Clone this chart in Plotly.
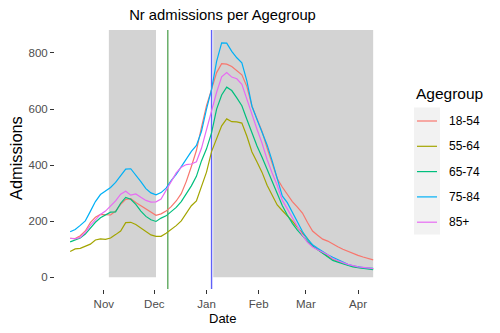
import pandas as pd
import plotly.graph_objects as go

# ---------------- data ----------------
start_date = "2020-10-12"
step_days = 3
dates = pd.date_range(start_date, periods=61, freq=f"{step_days}D")

agegroups = ["18-54", "55-64", "65-74", "75-84", "85+"]
colors = ["#F8766D", "#A3A500", "#00BF7D", "#00B0F6", "#E76BF3"]

adm_18_54 = [139, 138, 148, 165, 195, 214, 224, 224, 222, 236,
             260, 278, 280, 267, 255, 243, 231, 221, 226, 236,
             252, 272, 298, 342, 395, 452, 535, 612, 670, 730,
             762, 760, 752, 737, 722, 680, 610, 565, 520, 461,
             410, 352, 322, 297, 270, 250, 229, 195, 165, 150,
             136, 129, 118, 109, 100, 92, 84, 78, 72, 67, 62]
adm_55_64 = [92, 101, 103, 110, 118, 133, 137, 135, 140, 152,
             165, 195, 196, 188, 176, 163, 151, 146, 146, 157,
             169, 184, 201, 226, 255, 272, 322, 375, 448, 495,
             540, 565, 555, 554, 550, 503, 447, 411, 374, 328,
             294, 258, 238, 220, 200, 178, 158, 138, 111, 98,
             85, 75, 64, 56, 50, 44, 39, 35, 33, 32, 31]
adm_65_74 = [126, 133, 140, 154, 177, 196, 212, 223, 232, 233,
             264, 285, 278, 260, 236, 217, 205, 199, 211, 219,
             233, 249, 270, 297, 326, 360, 415, 458, 515, 600,
             650, 678, 666, 640, 612, 563, 515, 468, 428, 385,
             338, 298, 256, 222, 192, 168, 146, 128, 111, 99,
             87, 72, 60, 54, 48, 43, 37, 34, 31, 29, 27]
adm_75_84 = [162, 170, 185, 201, 235, 270, 295, 307, 320, 338,
             363, 386, 387, 366, 341, 316, 301, 294, 302, 318,
             345, 367, 393, 423, 449, 470, 520, 600, 670, 770,
             836, 835, 806, 783, 765, 700, 610, 563, 517, 472,
             415, 350, 290, 266, 232, 198, 163, 136, 116, 103,
             90, 80, 71, 62, 53, 46, 41, 37, 34, 33, 32]
adm_85_plus = [139, 137, 142, 160, 185, 205, 224, 236, 254, 272,
               296, 307, 293, 297, 285, 274, 268, 269, 279, 310,
               345, 372, 392, 402, 404, 412, 460, 530, 595, 660,
               715, 730, 714, 708, 688, 632, 576, 528, 478, 420,
               372, 328, 275, 244, 210, 180, 150, 124, 108, 98,
               88, 80, 66, 58, 52, 46, 41, 37, 35, 33, 31]
series = [adm_18_54, adm_55_64, adm_65_74, adm_75_84, adm_85_plus]

shaded_periods = [("2020-11-04", "2020-12-02"), ("2021-01-05", None)]
vlines = [("2020-12-09", "#5FA95F"), ("2021-01-04", "#6060F8")]

x_tick_vals = ["2020-11-01", "2020-12-01", "2021-01-01", "2021-02-01", "2021-03-01", "2021-04-01"]
x_tick_text = ["Nov", "Dec", "Jan", "Feb", "Mar", "Apr"]
y_tick_vals = [0, 200, 400, 600, 800]

# ---------------- layout helpers ----------------
W, H = 500, 333
PL, PR, PT, PB = 55, 390, 30, 289
Y_RANGE = [-42, 882]
FONT = "Liberation Sans, Arial, sans-serif"


def pxx(x):
    return (x - PL) / (PR - PL)


def pxy(y):
    return (PB - y) / (PB - PT)


fig = go.Figure()

for name, vals, col in zip(agegroups, series, colors):
    fig.add_trace(go.Scatter(x=dates, y=vals, mode="lines", name=name,
                             line=dict(color=col, width=1.2), showlegend=False))

shapes = []
for s, e in shaded_periods:
    shapes.append(dict(type="rect", xref="x", yref="y", x0=s,
                       x1=e if e is not None else dates[-1], y0=0, y1=Y_RANGE[1],
                       fillcolor="#D3D3D3", line=dict(width=0), layer="below"))
for d, c in vlines:
    shapes.append(dict(type="line", xref="x", yref="paper", x0=d, x1=d, y0=0, y1=1,
                       line=dict(color=c, width=1.4), layer="below"))

# manual legend (ggplot style)
annotations = []
leg_top, step = 121, 25.3
shapes.append(dict(type="rect", xref="paper", yref="paper", x0=pxx(414), x1=pxx(440),
                   y0=pxy(234.5), y1=pxy(107.5), fillcolor="#F2F2F2",
                   line=dict(width=0), layer="above"))
annotations.append(dict(text="Agegroup", xref="paper", yref="paper", x=pxx(413.5), y=pxy(94),
                        xanchor="left", yanchor="middle", showarrow=False,
                        font=dict(size=15.5, color="#000000", family=FONT)))
for i, (name, col) in enumerate(zip(agegroups, colors)):
    yy = leg_top + i * step
    shapes.append(dict(type="line", xref="paper", yref="paper", x0=pxx(417), x1=pxx(437),
                       y0=pxy(yy), y1=pxy(yy), line=dict(color=col, width=1.2), layer="above"))
    annotations.append(dict(text=name, xref="paper", yref="paper", x=pxx(447), y=pxy(yy),
                            xanchor="left", yanchor="middle", showarrow=False,
                            font=dict(size=12, color="#000000", family=FONT)))

# axis titles
annotations.append(dict(text="Admissions", xref="paper", yref="paper", x=pxx(16), y=pxy(158),
                        xanchor="center", yanchor="middle", textangle=-90, showarrow=False,
                        font=dict(size=16.4, color="#000000", family=FONT)))
annotations.append(dict(text="Date", xref="paper", yref="paper", x=0.5, y=pxy(318),
                        xanchor="center", yanchor="middle", showarrow=False,
                        font=dict(size=13, color="#000000", family=FONT)))

x_range = [dates[0] - pd.Timedelta(days=9), dates[-1] + pd.Timedelta(days=10)]

fig.update_layout(
    width=W, height=H,
    margin=dict(l=PL, r=W - PR, t=PT, b=H - PB, pad=0),
    paper_bgcolor="white", plot_bgcolor="white",
    font=dict(family=FONT, color="#000000"),
    title=dict(text="Nr admissions per Agegroup", x=0.5, xref="paper", xanchor="center",
               y=1 - 15 / H, yref="container", yanchor="middle",
               font=dict(size=14.8, color="#000000", family=FONT)),
    shapes=shapes, annotations=annotations, showlegend=False,
    xaxis=dict(range=x_range, tickmode="array", tickvals=x_tick_vals, ticktext=x_tick_text,
               showgrid=False, zeroline=False, showline=False,
               ticks="outside", ticklen=4, tickwidth=1, tickcolor="#333333",
               tickfont=dict(size=11.5, color="#4D4D4D", family=FONT)),
    yaxis=dict(range=Y_RANGE, tickmode="array", tickvals=y_tick_vals,
               showgrid=False, zeroline=False, showline=False,
               ticks="outside", ticklen=4, tickwidth=1, tickcolor="#333333",
               tickfont=dict(size=11.5, color="#4D4D4D", family=FONT)),
)

fig.write_html("out.html")
